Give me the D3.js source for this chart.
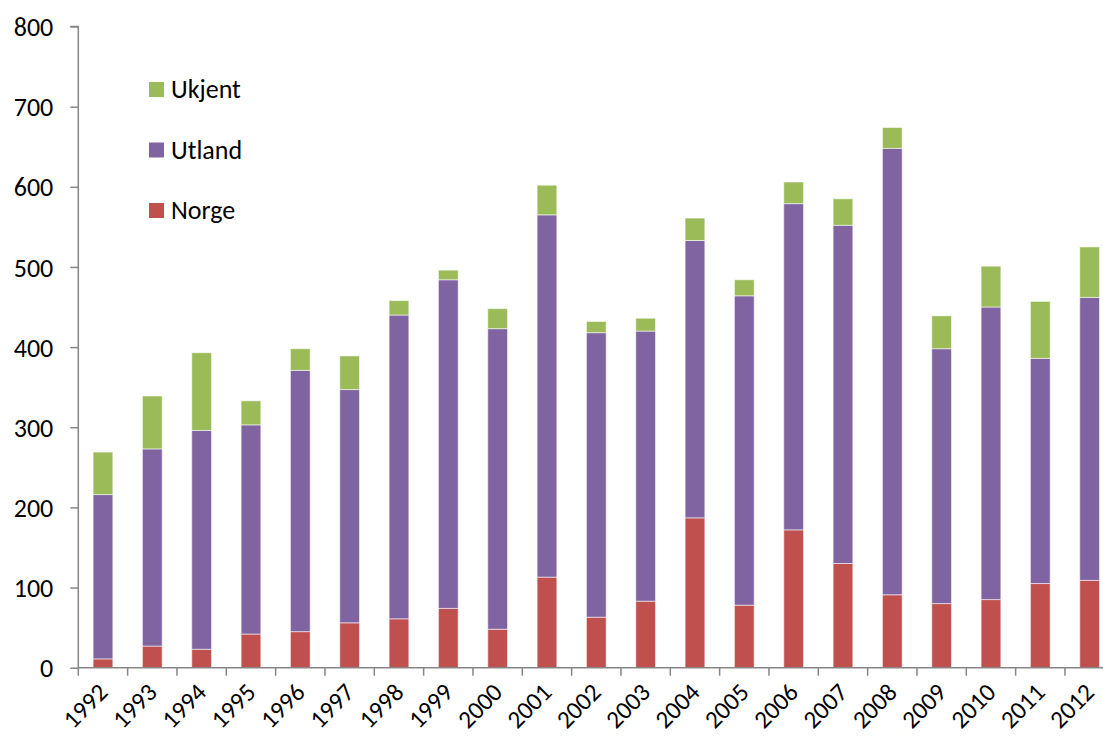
<!DOCTYPE html>
<html>
<head>
<meta charset="utf-8">
<script src="https://cdn.jsdelivr.net/npm/d3@7"></script>
<style>
  html, body { margin: 0; padding: 0; background: #fff; overflow: hidden; }
  svg { display: block; }
  text { font-family: Carlito, Calibri, Lato, "Open Sans", sans-serif; fill: #000; }
</style>
</head>
<body>
<svg id="chart" width="1103" height="740"></svg>
<script>
// Years on the category axis
const years = ["1992","1993","1994","1995","1996","1997","1998","1999","2000","2001","2002",
               "2003","2004","2005","2006","2007","2008","2009","2010","2011","2012"];

// Stacked series, bottom to top
const norge  = [11, 27, 23, 42, 45, 56, 61, 74, 48, 113, 63, 83, 187, 78, 172, 130, 91, 80, 85, 105, 109];
const utland = [205, 246, 273, 261, 326, 291, 379, 410, 375, 452, 355, 337, 346, 386, 407, 422, 557, 318, 365, 281, 353];
const ukjent = [53, 66, 97, 30, 27, 42, 18, 12, 25, 37, 14, 16, 28, 20, 27, 33, 26, 41, 51, 71, 63];

const seriesNames = ["Norge", "Utland", "Ukjent"];
const colors = { Norge: "#C0504D", Utland: "#8064A2", Ukjent: "#9BBB59" };
const yTicks = [0, 100, 200, 300, 400, 500, 600, 700, 800];

const rows = years.map((y, i) => ({ year: y, Norge: norge[i], Utland: utland[i], Ukjent: ukjent[i] }));
const stacked = d3.stack().keys(seriesNames)(rows);

const svg = d3.select("#chart");
const plotLeft = 78.3, plotRight = 1114.3, plotTop = 26.5, plotBottom = 667.7;
const fontSize = "26px";

const x = d3.scaleBand().domain(years).range([plotLeft, plotRight]).paddingInner(0.6).paddingOuter(0.3);
const xEdges = d3.scaleBand().domain(years).range([plotLeft, plotRight]).padding(0);
const y = d3.scaleLinear().domain([0, 800]).range([plotBottom, plotTop]);

// Bars
svg.append("g").selectAll("g")
  .data(stacked)
  .join("g")
  .attr("fill", d => colors[d.key])
  .selectAll("rect")
  .data(d => d)
  .join("rect")
  .attr("x", d => x(d.data.year))
  .attr("width", x.bandwidth())
  .attr("y", d => y(d[1]))
  .attr("height", d => y(d[0]) - y(d[1]))
  .attr("stroke", "rgba(255,255,255,0.55)")
  .attr("stroke-width", 1);

const axisColor = "#868686";

// Y axis
const yAxis = svg.append("g")
  .attr("transform", `translate(${plotLeft},0)`)
  .call(d3.axisLeft(y).tickValues(yTicks).tickSize(8).tickPadding(17).tickFormat(d3.format("d")));
yAxis.select(".domain").attr("stroke", axisColor).attr("stroke-width", 1.5).attr("d", `M-8,${plotTop}H0V${plotBottom}`);
yAxis.selectAll(".tick line").attr("stroke", axisColor).attr("stroke-width", 1.5);
yAxis.selectAll(".tick text").style("font-size", fontSize).attr("dy", "0.35em")
  .style("font-family", "Carlito, Calibri, Lato, 'Open Sans', sans-serif");

// X axis: line and ticks at category boundaries
const xAxisG = svg.append("g");
xAxisG.append("line")
  .attr("x1", plotLeft).attr("x2", plotRight)
  .attr("y1", plotBottom).attr("y2", plotBottom)
  .attr("stroke", axisColor).attr("stroke-width", 1.5);
const edgeVals = years.map(d => xEdges(d)).concat([xEdges(years[years.length - 1]) + xEdges.bandwidth()]);
xAxisG.selectAll("line.tk")
  .data(edgeVals)
  .join("line")
  .attr("class", "tk")
  .attr("x1", d => d).attr("x2", d => d)
  .attr("y1", plotBottom).attr("y2", plotBottom + 8)
  .attr("stroke", axisColor).attr("stroke-width", 1.5);

xAxisG.selectAll("text")
  .data(years)
  .join("text")
  .attr("transform", d => `translate(${xEdges(d) + xEdges.bandwidth() / 2},${plotBottom + 20}) rotate(-45)`)
  .attr("text-anchor", "end")
  .attr("dy", "0.35em")
  .style("font-size", "25px")
  .text(d => d);

// Legend
const legendItems = ["Ukjent", "Utland", "Norge"];
const legend = svg.append("g");
legendItems.forEach((name, i) => {
  const gy = 82 + i * 60.5;
  legend.append("rect")
    .attr("x", 149).attr("y", gy)
    .attr("width", 15).attr("height", 15)
    .attr("fill", colors[name]);
  legend.append("text")
    .attr("x", 171).attr("y", gy + 16)
    .style("font-size", fontSize)
    .text(name);
});
</script>
</body>
</html>
